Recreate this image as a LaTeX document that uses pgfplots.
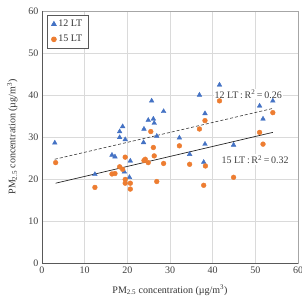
\documentclass[border=0pt]{standalone}
\usepackage{pgfplots}
\pgfplotsset{compat=1.18}
\usepackage{fontspec}
\setmainfont{Liberation Serif}
\usetikzlibrary{calc}

\definecolor{ltblue}{HTML}{4472C4}
\definecolor{ltorange}{HTML}{ED7D31}
\definecolor{gridgray}{HTML}{DADADA}
\definecolor{framegray}{HTML}{A6A6A6}
\definecolor{axisdark}{HTML}{595959}

% 12 LT sampler
\pgfplotstableread{
x y
3.0 28.6
18.2 29.9
18.2 31.3
18.9 32.5
19.5 29.4
23.9 31.9
23.8 28.7
24.9 34.0
25.7 38.6
26.1 34.3
26.3 33.3
26.9 30.2
28.5 36.1
32.2 29.8
36.9 40.0
38.2 35.6
38.2 28.3
41.6 42.4
44.9 28.1
51.0 37.4
51.8 34.3
54.1 38.6
16.4 25.7
17.1 25.3
20.7 24.3
12.4 21.1
19.3 21.7
20.5 20.4
34.6 25.9
37.9 24.0
}\dataA

% 15 LT sampler
\pgfplotstableread{
x y
25.5 31.3
26.1 27.5
32.2 27.9
36.9 31.9
38.2 33.9
41.6 38.6
51.0 31.1
51.8 28.3
54.1 35.8
3.2 23.9
12.4 18.0
16.4 21.2
17.1 21.3
18.2 22.9
18.9 22.3
19.5 25.2
19.5 19.9
19.5 19.0
20.7 19.0
20.7 17.6
23.9 24.4
24.2 24.7
24.9 23.9
26.3 25.5
26.9 19.4
28.5 23.7
34.6 23.5
38.3 23.1
37.9 18.5
44.9 20.4
}\dataB

\begin{document}
\begin{tikzpicture}
\begin{axis}[
  scale only axis,
  width=256pt, height=252pt,
  xmin=0, xmax=60, ymin=0, ymax=60,
  xtick={0,10,...,60}, ytick={0,10,...,60},
  grid=major,
  major grid style={gridgray, line width=0.6pt},
  axis line style={framegray, line width=0.8pt},
  tick style={draw=none},
  ticklabel style={font=\fontsize{10}{12}\selectfont, text=black!75},
  /pgf/number format/assume math mode=true,
  xlabel={PM\textsubscript{2.5} concentration (\textmu g/m\textsuperscript{3})},
  ylabel={PM\textsubscript{2.5} concentration (\textmu g/m\textsuperscript{3})},
  label style={font=\fontsize{10}{12}\selectfont, text=black!80},
  xlabel style={yshift=-5pt},
  ylabel style={yshift=4pt},
  legend style={at={(0.02,0.985)}, anchor=north west, draw=axisdark,
    line width=0.8pt, font=\fontsize{10}{12}\selectfont,
    inner xsep=4pt, inner ysep=3pt, row sep=3pt, text=black!80},
  legend cell align=left,
  clip=false,
]
\draw[axisdark, line width=0.8pt] (rel axis cs:0,1) -- (rel axis cs:0,0) -- (rel axis cs:1,0);
\addplot[only marks, mark=triangle*, mark size=2.7pt, color=ltblue] table {\dataA};
\addlegendentry{12 LT}
\addplot[only marks, mark=*, mark size=2.4pt, color=ltorange] table {\dataB};
\addlegendentry{15 LT}
% fitted trends
\addplot[black!80, densely dashed, line width=0.6pt, forget plot] coordinates {(3.0,24.7) (54.1,36.8)};
\addplot[black!85, line width=0.7pt, forget plot] coordinates {(3.2,19.0) (54.1,31.1)};
\node[anchor=west, font=\fontsize{10}{12}\selectfont, text=black!75, fill=white, inner sep=1pt] at (axis cs:40.2,40.2) {12 LT\,:\,R\textsuperscript{2}\,=\,0.26};
\node[anchor=west, font=\fontsize{10}{12}\selectfont, text=black!75, fill=white, inner sep=1pt] at (axis cs:41.8,24.6) {15 LT\,:\,R\textsuperscript{2}\,=\,0.32};
\coordinate (ll) at (rel axis cs:0,0);
\coordinate (ur) at (rel axis cs:1,1);
\end{axis}
\pgfresetboundingbox
\useasboundingbox ($(ll)+(-42pt,-36pt)$) rectangle ($(ur)+(4pt,11pt)$);
\end{tikzpicture}
\end{document}
